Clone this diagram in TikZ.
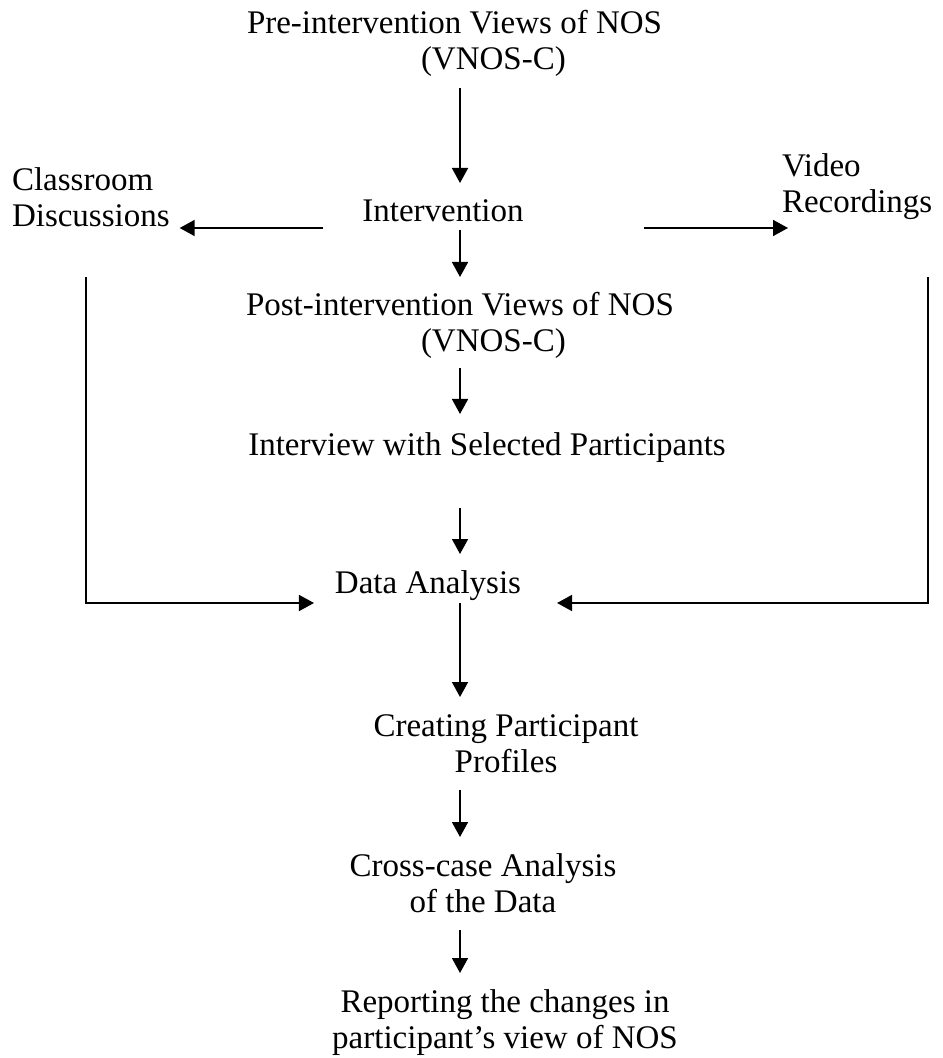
\documentclass[tikz,border=0pt]{standalone}
\usepackage{fontspec}
\setmainfont{Liberation Serif}
\usetikzlibrary{arrows.meta}

\begin{document}
\begin{tikzpicture}[x=0.5pt, y=-0.5pt,
    lbl/.style={inner sep=0pt, outer sep=0pt, text height=10.5pt, text depth=0pt, font=\fontsize{16.5}{18}\selectfont},
    twoline/.style={lbl, text height=28.5pt},
    flow/.style={-{Triangle[length=7.5pt, width=8pt]}, line width=0.8pt, shorten <=9pt, shorten >=9pt}]
        \useasboundingbox (0,0) rectangle (942,1058);

        % stages down the middle
        \node[twoline, align=left, anchor=south west] (pre) at (247,70) {Pre-intervention Views of NOS\\\hspace*{87pt}(VNOS-C)};
        \node[lbl, anchor=south] (interv) at (443,222) {Intervention};
        \node[twoline, align=left, anchor=south west] (post) at (246,352) {Post-intervention Views of NOS\\\hspace*{87.5pt}(VNOS-C)};
        \node[lbl, anchor=south] (interview) at (487,455) {Interview with Selected Participants};
        \node[lbl, anchor=south] (analysis) at (428,593) {Data Analysis};
        \node[twoline, align=center, anchor=south] (profiles) at (506,772) {Creating Participant\\Profiles};
        \node[twoline, align=center, anchor=south] (crosscase) at (483,912) {Cross-case Analysis\\of the Data};
        \node[twoline, align=center, anchor=south] (report) at (505,1048) {Reporting the changes in\\participant's view of NOS};

        % side sources
        \node[twoline, align=left, anchor=south west] (discuss) at (12,227) {Classroom\\Discussions};
        \node[twoline, align=left, anchor=south west] (video) at (782,213) {Video\\Recordings};

        \coordinate (ax) at (460,0);
        \coordinate (lft) at (86,277);
        \coordinate (rgt) at (928,277);

        \draw[flow] (pre.south -| ax) -- (interv.north -| ax);
        \draw[flow, shorten <=4pt] (interv.south -| ax) -- (post.north -| ax);
        \draw[flow, shorten <=8pt, shorten >=10pt] (post.south -| ax) -- (interview.north -| ax);
        \draw[flow, shorten <=26.5pt] (interview.south -| ax) -- (analysis.north -| ax);
        \draw[flow, shorten <=5pt] (analysis.south -| ax) -- (profiles.north -| ax);
        \draw[flow] (profiles.south -| ax) -- (crosscase.north -| ax);
        \draw[flow] (crosscase.south -| ax) -- (report.north -| ax);

        \draw[flow, shorten <=19.5pt, shorten >=5pt] ([yshift=-3pt]interv.south west) -- ([yshift=-3pt]interv.south west -| discuss.east);
        \draw[flow, shorten <=60pt, shorten >=-3pt] ([yshift=-3pt]interv.south east) -- ([yshift=-3pt]interv.south east -| video.west);

        \draw[flow, shorten <=0pt, shorten >=10.5pt] (lft) |- ([yshift=-5pt]analysis.south west);
        \draw[flow, shorten <=0pt, shorten >=18pt] (rgt) |- ([yshift=-5pt]analysis.south east);
\end{tikzpicture}
\end{document}
